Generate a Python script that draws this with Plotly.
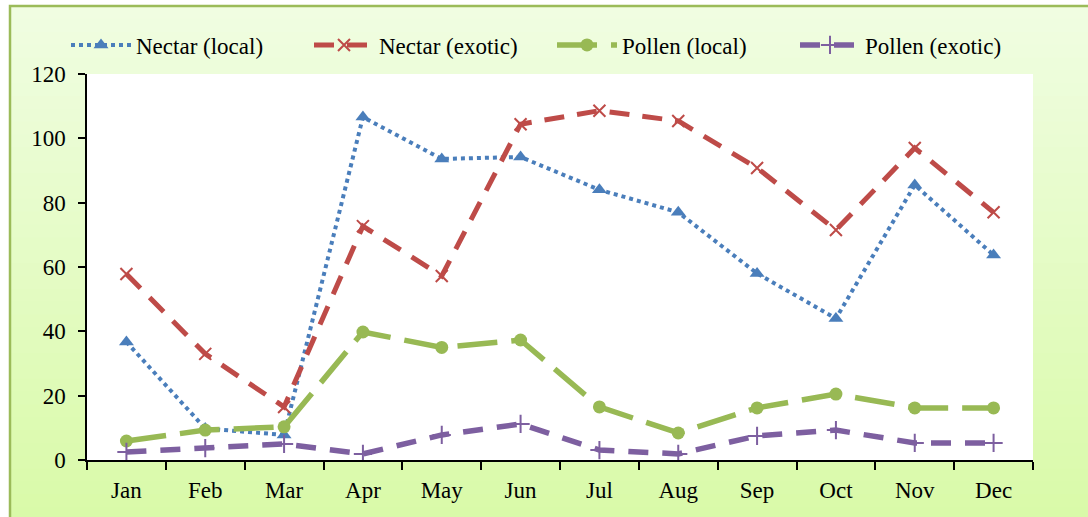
import plotly.graph_objects as go

months = ["Jan", "Feb", "Mar", "Apr", "May", "Jun", "Jul", "Aug", "Sep", "Oct", "Nov", "Dec"]
nectar_local = [36.7, 9.8, 7.8, 106.6, 93.6, 94.2, 84.0, 77.0, 58.0, 44.0, 85.5, 63.7]
nectar_exotic = [57.8, 33.0, 16.5, 72.7, 57.2, 104.4, 108.6, 105.4, 90.8, 71.5, 97.0, 77.0]
pollen_local = [5.9, 9.3, 10.3, 39.8, 35.0, 37.3, 16.5, 8.4, 16.2, 20.5, 16.2, 16.2]
pollen_exotic = [2.5, 3.7, 5.0, 1.9, 7.8, 11.2, 3.1, 1.9, 7.5, 9.3, 5.3, 5.3]
y_ticks = [0, 20, 40, 60, 80, 100, 120]

FONT = "Liberation Serif, Times New Roman, serif"
W, H = 1088, 517
ML, MR, MT, MB = 87, 55, 74, 57
PW, PH = W - ML - MR, H - MT - MB


def px_x(p):
    return (p - ML) / PW


def px_y(p):
    return (H - MB - p) / PH


fig = go.Figure()

fig.add_trace(go.Scatter(
    x=months, y=nectar_local, name="Nectar (local)", mode="lines+markers",
    line=dict(color="#4a7ebb", width=4, dash="dot"),
    marker=dict(symbol="triangle-up", size=13, color="#4a7ebb"),
))
fig.add_trace(go.Scatter(
    x=months, y=nectar_exotic, name="Nectar (exotic)", mode="lines+markers",
    line=dict(color="#be4b48", width=5, dash="20px,13px"),
    marker=dict(symbol="x-thin", size=12, color="#be4b48",
                line=dict(color="#be4b48", width=2)),
))
fig.add_trace(go.Scatter(
    x=months, y=pollen_local, name="Pollen (local)", mode="lines+markers",
    line=dict(color="#98b954", width=5.5, dash="40px,14px"),
    marker=dict(symbol="circle", size=13, color="#98b954"),
))
fig.add_trace(go.Scatter(
    x=months, y=pollen_exotic, name="Pollen (exotic)", mode="lines+markers",
    line=dict(color="#7d5fa0", width=5.5, dash="20px,14px"),
    marker=dict(symbol="cross-thin", size=13, color="#7d5fa0",
                line=dict(color="#7d5fa0", width=2)),
))

# background gradient (outer chart area)
shapes = []
top_px, bot_px = 6, 520
c_top = (240, 253, 226)
c_bot = (217, 250, 168)
n = 40
for i in range(n):
    f = (i + 0.5) / n
    col = tuple(round(a + (b - a) * f) for a, b in zip(c_top, c_bot))
    y_a = top_px + (bot_px - top_px) * i / n
    y_b = top_px + (bot_px - top_px) * (i + 1) / n + 1
    shapes.append(dict(
        type="rect", xref="paper", yref="paper", layer="below",
        x0=px_x(10), x1=px_x(W + 5), y0=px_y(y_b), y1=px_y(y_a),
        fillcolor="rgb(%d,%d,%d)" % col, line=dict(width=0),
    ))
shapes.append(dict(
    type="rect", xref="paper", yref="paper", layer="below",
    x0=0, x1=1, y0=0, y1=1, fillcolor="white", line=dict(width=0),
))
shapes.append(dict(
    type="rect", xref="paper", yref="paper", layer="below",
    x0=px_x(10), x1=px_x(W + 10), y0=px_y(H + 10), y1=px_y(6),
    fillcolor="rgba(0,0,0,0)", line=dict(color="#9bbb59", width=2.5),
))

fig.update_layout(
    width=W, height=H,
    margin=dict(l=ML, r=MR, t=MT, b=MB),
    paper_bgcolor="white", plot_bgcolor="white",
    font=dict(family=FONT, size=23, color="black"),
    shapes=shapes,
    showlegend=True,
    legend=dict(
        orientation="h", x=px_x(66), y=px_y(45), xanchor="left", yanchor="middle",
        bgcolor="rgba(0,0,0,0)", font=dict(family=FONT, size=23, color="black"),
        itemwidth=60, entrywidth=168, entrywidthmode="pixels",
    ),
    xaxis=dict(
        type="category", categoryorder="array", categoryarray=months,
        range=[-0.5, 11.5], showgrid=False, zeroline=False,
        showline=True, linecolor="black", linewidth=1.5,
        ticks="outside", ticklen=8, tickwidth=1.5, tickcolor="black",
        tickson="boundaries", ticklabelstandoff=9,
        tickfont=dict(family=FONT, size=23, color="black"),
    ),
    yaxis=dict(
        range=[0, 120], tickvals=y_ticks, showgrid=False, zeroline=False,
        showline=True, linecolor="black", linewidth=1.5,
        ticks="outside", ticklen=7, tickwidth=1.5, tickcolor="black",
        ticklabelstandoff=8,
        tickfont=dict(family=FONT, size=23, color="black"),
    ),
)

fig.write_html("out.html", config={"displayModeBar": False},
               post_script="document.body.style.margin='0';")
